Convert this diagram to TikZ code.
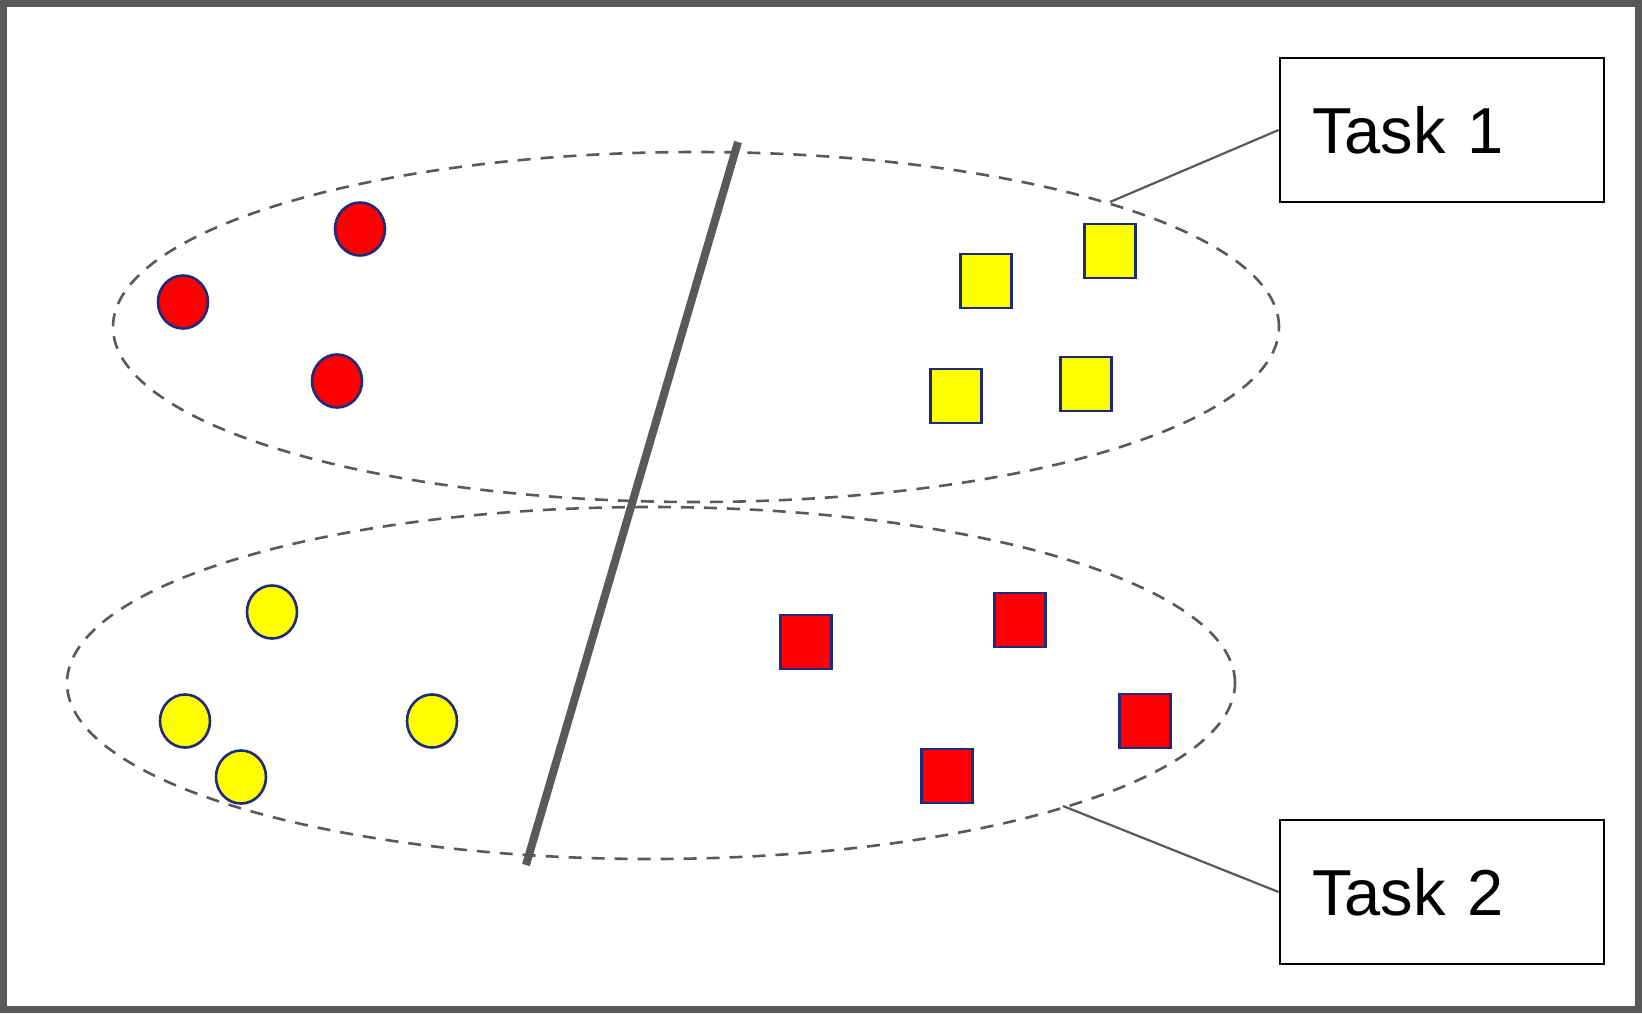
\documentclass[tikz,border=0pt]{standalone}
\usepackage{fontspec}
\setmainfont{Liberation Sans}
\usetikzlibrary{shapes.geometric}
\definecolor{frame}{HTML}{595959}
\definecolor{navy}{HTML}{1F2A78}
\definecolor{yel}{HTML}{FFFF00}
\definecolor{rd}{HTML}{FF0000}
\tikzset{
  dot/.style={ellipse, draw=navy, line width=2.6pt, minimum width=50pt, minimum height=53pt, inner sep=0pt},
  sq/.style={rectangle, draw=navy, line width=2.6pt, minimum width=51pt, minimum height=54pt, inner sep=0pt},
  redf/.style={fill=rd},
  yelf/.style={fill=yel},
  group/.style={draw=frame, line width=2.6pt, dash pattern=on 13pt off 10pt},
  taskbox/.style={draw=black, line width=2.8pt, minimum width=324pt, minimum height=144pt,
    text width=260pt, inner xsep=32pt, align=left, font=\fontsize{65}{78}\selectfont},
  leader/.style={draw=frame, line width=2.2pt}
}
\begin{document}
\begin{tikzpicture}[x=1pt,y=-1pt]
\useasboundingbox (0,0) rectangle (1642,1013);
\fill[white] (0,0) rectangle (1642,1013);
\draw[frame, line width=7pt] (3.5,3.5) rectangle (1638.5,1009.5);
% groups
\draw[group] (696,327) ellipse [x radius=583pt, y radius=175pt];
\draw[group] (651,683) ellipse [x radius=584pt, y radius=176pt];
% separator
\coordinate (s1) at (738,142);
\coordinate (s2) at (526,865);
\draw[frame, line width=8pt] (s1) -- (s2);
% task 1 points
\node[dot,redf] (r1) at (360,229) {};
\node[dot,redf] (r2) at (183,302) {};
\node[dot,redf] (r3) at (337,381) {};
\node[sq,yelf] (y1) at (986,281) {};
\node[sq,yelf] (y2) at (1110,251) {};
\node[sq,yelf] (y3) at (956,396) {};
\node[sq,yelf] (y4) at (1086,384) {};
% task 2 points
\node[dot,yelf] (c1) at (272,612) {};
\node[dot,yelf] (c2) at (185,721) {};
\node[dot,yelf] (c3) at (241,777) {};
\node[dot,yelf] (c4) at (432,721) {};
\node[sq,redf] (q1) at (806,642) {};
\node[sq,redf] (q2) at (1020,620) {};
\node[sq,redf] (q3) at (1145,721) {};
\node[sq,redf] (q4) at (947,776) {};
% labels
\node[taskbox] (t1) at (1442,130) {Task 1};
\node[taskbox] (t2) at (1442,892) {Task 2};
\coordinate (e1) at (1110,202);
\coordinate (e2) at (1063,806);
\draw[leader] (t1.west) -- (e1);
\draw[leader] (t2.west) -- (e2);
\end{tikzpicture}
\end{document}
